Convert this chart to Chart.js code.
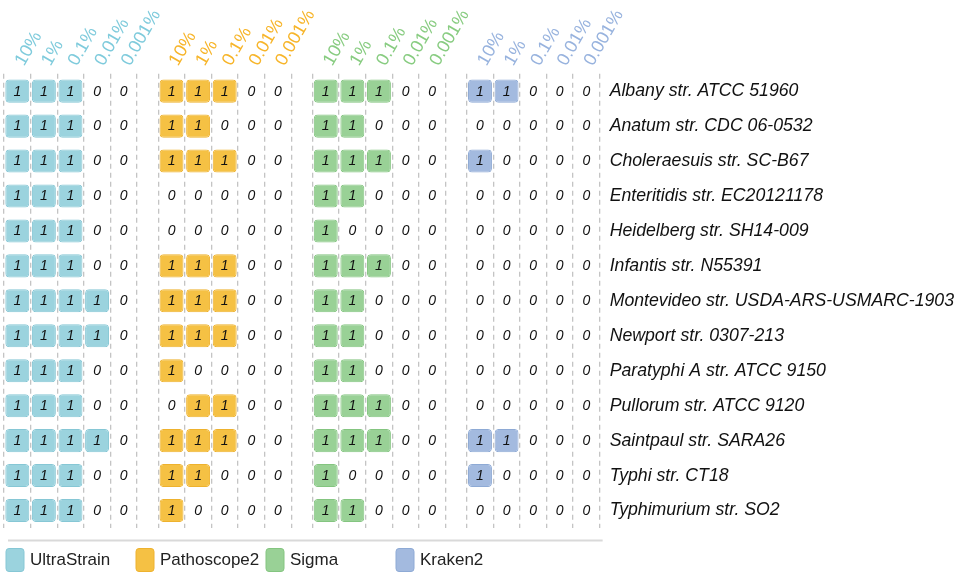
<!DOCTYPE html>
<html><head><meta charset="utf-8">
<script src="https://cdn.jsdelivr.net/npm/chart.js@4.4.1/dist/chart.umd.min.js"></script>
<style>html,body{margin:0;padding:0;background:#fff}canvas{display:block}</style>
</head><body>
<canvas id="c" width="957" height="576" style="width:957px;height:576px"></canvas>
<script>
// ---- data ----
const rowLabels = [
  'Albany str. ATCC 51960',
  'Anatum str. CDC 06-0532',
  'Choleraesuis str. SC-B67',
  'Enteritidis str. EC20121178',
  'Heidelberg str. SH14-009',
  'Infantis str. N55391',
  'Montevideo str. USDA-ARS-USMARC-1903',
  'Newport str. 0307-213',
  'Paratyphi A str. ATCC 9150',
  'Pullorum str. ATCC 9120',
  'Saintpaul str. SARA26',
  'Typhi str. CT18',
  'Typhimurium str. SO2'
];
const pctLabels = ['10%', '1%', '0.1%', '0.01%', '0.001%'];
const toolNames = ['UltraStrain', 'Pathoscope2', 'Sigma', 'Kraken2'];

const ultraStrain = [
  [1,1,1,0,0],[1,1,1,0,0],[1,1,1,0,0],[1,1,1,0,0],[1,1,1,0,0],[1,1,1,0,0],
  [1,1,1,1,0],[1,1,1,1,0],[1,1,1,0,0],[1,1,1,0,0],[1,1,1,1,0],[1,1,1,0,0],[1,1,1,0,0]
];
const pathoscope2 = [
  [1,1,1,0,0],[1,1,0,0,0],[1,1,1,0,0],[0,0,0,0,0],[0,0,0,0,0],[1,1,1,0,0],
  [1,1,1,0,0],[1,1,1,0,0],[1,0,0,0,0],[0,1,1,0,0],[1,1,1,0,0],[1,1,0,0,0],[1,0,0,0,0]
];
const sigma = [
  [1,1,1,0,0],[1,1,0,0,0],[1,1,1,0,0],[1,1,0,0,0],[1,0,0,0,0],[1,1,1,0,0],
  [1,1,0,0,0],[1,1,0,0,0],[1,1,0,0,0],[1,1,1,0,0],[1,1,1,0,0],[1,0,0,0,0],[1,1,0,0,0]
];
const kraken2 = [
  [1,1,0,0,0],[0,0,0,0,0],[1,0,0,0,0],[0,0,0,0,0],[0,0,0,0,0],[0,0,0,0,0],
  [0,0,0,0,0],[0,0,0,0,0],[0,0,0,0,0],[0,0,0,0,0],[1,1,0,0,0],[1,0,0,0,0],[0,0,0,0,0]
];

// ---- styles / layout ----
const FONT = '"Liberation Sans", Arial, Helvetica, sans-serif';
const fillColors = ['#9bd3de', '#f5c144', '#99d196', '#a3badf'];
const edgeColors = ['#86c7d5', '#eeb22e', '#84c580', '#8eaad5'];
const headerColors = ['#7fcbdc', '#f7b52a', '#88cc81', '#98b3de'];
const GROUP_STRIDE = 5.8;
const HALF_W = 0.45;

const matrices = [ultraStrain, pathoscope2, sigma, kraken2];
const colPos = (g, c) => g * GROUP_STRIDE + c;
const xMin = -0.5, xMax = 3 * GROUP_STRIDE + 4.5;

const boundaries = [], centers = [];
for (let g = 0; g < 4; g++) {
  for (let c = 0; c <= 5; c++) boundaries.push(colPos(g, c) - 0.5);
  for (let c = 0; c < 5; c++) centers.push(colPos(g, c));
}

const datasets = matrices.map((m, g) => {
  const data = [];
  m.forEach((row, r) => row.forEach((v, c) => {
    if (v === 1) data.push({ x: [colPos(g, c) - HALF_W, colPos(g, c) + HALF_W], y: rowLabels[r] });
  }));
  return {
    label: toolNames[g], data,
    backgroundColor: fillColors[g], borderColor: edgeColors[g],
    borderWidth: 1, borderRadius: 4, borderSkipped: false,
    grouped: false, barPercentage: 0.66, categoryPercentage: 1,
    xAxisID: 'x', yAxisID: 'y'
  };
});

const cellText = {
  id: 'cellText',
  afterDatasetsDraw(chart) {
    const { ctx, scales: { x, y } } = chart;
    ctx.save();
    ctx.font = 'italic 14px ' + FONT;
    ctx.fillStyle = '#111';
    ctx.textAlign = 'center';
    ctx.textBaseline = 'middle';
    matrices.forEach((m, g) => m.forEach((row, r) => row.forEach((v, c) => {
      ctx.fillText(String(v), x.getPixelForValue(colPos(g, c)), y.getPixelForValue(r) + 0.5);
    })));
    ctx.restore();
  }
};

function rrect(ctx, x, y, w, h, r) {
  ctx.beginPath();
  ctx.moveTo(x + r, y);
  ctx.lineTo(x + w - r, y); ctx.quadraticCurveTo(x + w, y, x + w, y + r);
  ctx.lineTo(x + w, y + h - r); ctx.quadraticCurveTo(x + w, y + h, x + w - r, y + h);
  ctx.lineTo(x + r, y + h); ctx.quadraticCurveTo(x, y + h, x, y + h - r);
  ctx.lineTo(x, y + r); ctx.quadraticCurveTo(x, y, x + r, y);
  ctx.closePath();
}

const legendBar = {
  id: 'legendBar',
  afterDraw(chart) {
    const { ctx, chartArea: a } = chart;
    ctx.save();
    ctx.strokeStyle = '#d9d9d9';
    ctx.lineWidth = 2;
    ctx.beginPath();
    ctx.moveTo(a.left + 4, a.bottom + 12.5);
    ctx.lineTo(a.right + 3, a.bottom + 12.5);
    ctx.stroke();
    chart.data.datasets.forEach((ds, i) => {
      const bx = a.left + 2 + i * 130, by = a.bottom + 20.5;
      rrect(ctx, bx, by, 18, 23, 3);
      ctx.fillStyle = ds.backgroundColor; ctx.fill();
      ctx.strokeStyle = ds.borderColor; ctx.lineWidth = 1; ctx.stroke();
      ctx.fillStyle = '#222';
      ctx.font = '17px ' + FONT;
      ctx.textAlign = 'left'; ctx.textBaseline = 'middle';
      ctx.fillText(ds.label, bx + 24, by + 12);
    });
    ctx.restore();
  }
};

const noSidePadding = s => { s.paddingLeft = 0; s.paddingRight = 0; };

new Chart(document.getElementById('c'), {
  type: 'bar',
  data: { labels: rowLabels, datasets },
  options: {
    indexAxis: 'y',
    responsive: false,
    animation: false,
    events: [],
    layout: { autoPadding: false, padding: { left: 4, right: -7, top: 2, bottom: 48 } },
    plugins: { legend: { display: false }, tooltip: { enabled: false } },
    scales: {
      x: {
        type: 'linear', position: 'bottom', min: xMin, max: xMax,
        afterBuildTicks: s => { s.ticks = boundaries.map(v => ({ value: v })); },
        afterFit: noSidePadding,
        ticks: { display: false },
        grid: { color: '#c4c4c4', lineWidth: 1.3, drawTicks: false, borderDash: [5, 4] },
        border: { display: false, dash: [5, 4] }
      },
      xTop: {
        type: 'linear', position: 'top', min: xMin, max: xMax,
        afterBuildTicks: s => { s.ticks = centers.map(v => ({ value: v })); },
        afterFit: noSidePadding,
        ticks: {
          autoSkip: false, minRotation: 60, maxRotation: 60, padding: 4, labelOffset: 21,
          font: { size: 18, family: FONT },
          color: ctx => headerColors[Math.floor(ctx.index / 5)],
          callback: (v, i) => pctLabels[i % 5]
        },
        grid: { display: false, drawTicks: false },
        border: { display: false }
      },
      y: {
        type: 'category', position: 'right', offset: true,
        grid: { display: false, drawTicks: false },
        border: { display: false },
        ticks: { padding: 10, color: '#111', font: { size: 17.7, style: 'italic', family: FONT } }
      }
    }
  },
  plugins: [cellText, legendBar]
});
</script>
</body></html>
